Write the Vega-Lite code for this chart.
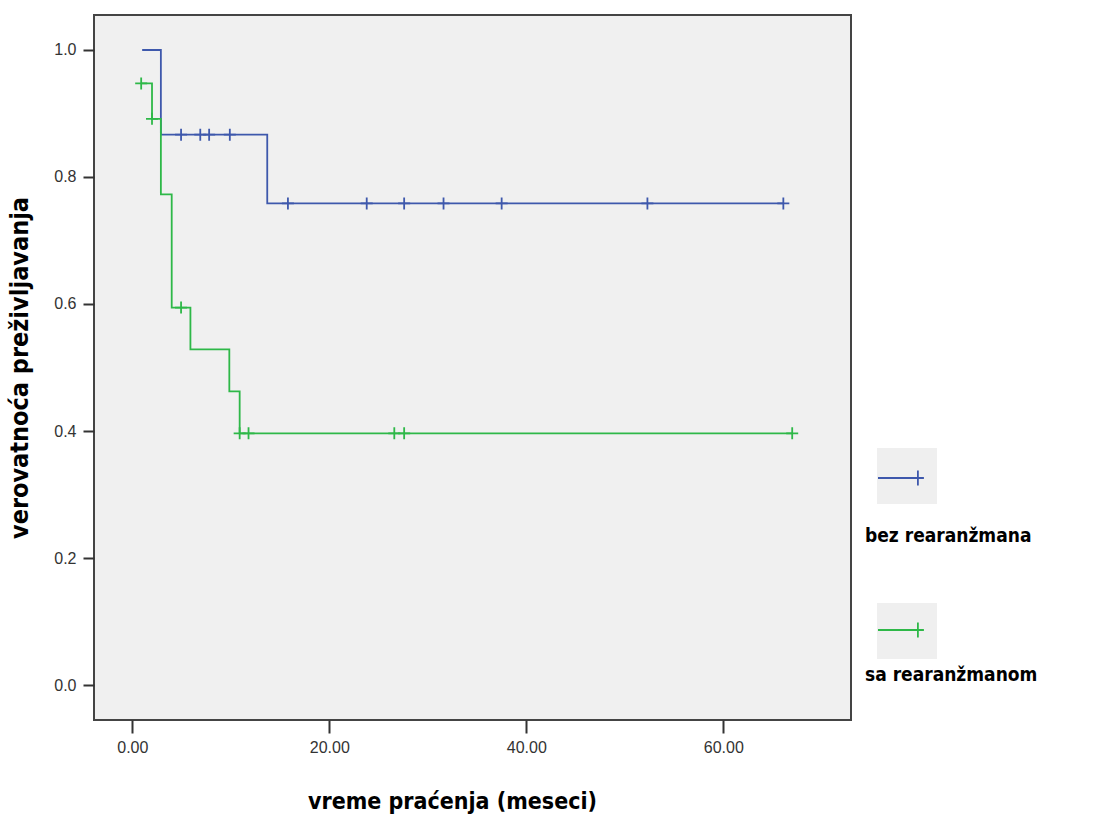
{
  "$schema": "https://vega.github.io/schema/vega-lite/v6.json",
  "width": 757,
  "height": 705,
  "autosize": "none",
  "padding": {"left": 94, "top": 15, "right": 243, "bottom": 98},
  "background": "white",
  "config": {
    "view": {"fill": "#F0F0F0", "stroke": "#444444", "strokeWidth": 2},
    "axis": {
      "domain": false,
      "grid": false,
      "tickColor": "#333333",
      "tickWidth": 2,
      "labelFont": "Liberation Sans",
      "labelFontSize": 16,
      "labelColor": "#333333",
      "titleFont": "Liberation Sans Narrow, DejaVu Sans Condensed, sans-serif",
      "titleFontWeight": "bold",
      "titleColor": "#000000"
    }
  },
  "data": {
    "values": [
      {"grupa": "bez rearanžmana", "tip": "korak", "t": 1.0, "s": 1.0},
      {"grupa": "bez rearanžmana", "tip": "korak", "t": 2.9, "s": 0.8667},
      {"grupa": "bez rearanžmana", "tip": "korak", "t": 13.7, "s": 0.7583},
      {"grupa": "bez rearanžmana", "tip": "korak", "t": 66.1, "s": 0.7583},
      {"grupa": "sa rearanžmanom", "tip": "korak", "t": 0.9, "s": 0.9474},
      {"grupa": "sa rearanžmanom", "tip": "korak", "t": 2.0, "s": 0.8916},
      {"grupa": "sa rearanžmanom", "tip": "korak", "t": 2.9, "s": 0.7727},
      {"grupa": "sa rearanžmanom", "tip": "korak", "t": 4.0, "s": 0.5944},
      {"grupa": "sa rearanžmanom", "tip": "korak", "t": 5.9, "s": 0.5284},
      {"grupa": "sa rearanžmanom", "tip": "korak", "t": 9.85, "s": 0.4623},
      {"grupa": "sa rearanžmanom", "tip": "korak", "t": 10.9, "s": 0.3963},
      {"grupa": "sa rearanžmanom", "tip": "korak", "t": 67.0, "s": 0.3963},
      {"grupa": "bez rearanžmana", "tip": "cenzura", "t": 4.95, "s": 0.8667},
      {"grupa": "bez rearanžmana", "tip": "cenzura", "t": 6.9, "s": 0.8667},
      {"grupa": "bez rearanžmana", "tip": "cenzura", "t": 7.8, "s": 0.8667},
      {"grupa": "bez rearanžmana", "tip": "cenzura", "t": 9.9, "s": 0.8667},
      {"grupa": "bez rearanžmana", "tip": "cenzura", "t": 15.8, "s": 0.7583},
      {"grupa": "bez rearanžmana", "tip": "cenzura", "t": 23.8, "s": 0.7583},
      {"grupa": "bez rearanžmana", "tip": "cenzura", "t": 27.6, "s": 0.7583},
      {"grupa": "bez rearanžmana", "tip": "cenzura", "t": 31.6, "s": 0.7583},
      {"grupa": "bez rearanžmana", "tip": "cenzura", "t": 37.5, "s": 0.7583},
      {"grupa": "bez rearanžmana", "tip": "cenzura", "t": 52.3, "s": 0.7583},
      {"grupa": "bez rearanžmana", "tip": "cenzura", "t": 66.1, "s": 0.7583},
      {"grupa": "sa rearanžmanom", "tip": "cenzura", "t": 0.9, "s": 0.9474},
      {"grupa": "sa rearanžmanom", "tip": "cenzura", "t": 2.0, "s": 0.8916},
      {"grupa": "sa rearanžmanom", "tip": "cenzura", "t": 4.95, "s": 0.5944},
      {"grupa": "sa rearanžmanom", "tip": "cenzura", "t": 10.9, "s": 0.3963},
      {"grupa": "sa rearanžmanom", "tip": "cenzura", "t": 11.8, "s": 0.3963},
      {"grupa": "sa rearanžmanom", "tip": "cenzura", "t": 26.6, "s": 0.3963},
      {"grupa": "sa rearanžmanom", "tip": "cenzura", "t": 27.6, "s": 0.3963},
      {"grupa": "sa rearanžmanom", "tip": "cenzura", "t": 67.0, "s": 0.3963}
    ]
  },
  "encoding": {
    "x": {
      "field": "t",
      "type": "quantitative",
      "scale": {"domain": [-3.89, 72.97], "nice": false, "zero": false},
      "axis": {"values": [0, 20, 40, 60], "format": ".2f", "title": "vreme praćenja (meseci)", "tickSize": 13, "labelPadding": 6, "titlePadding": 35, "titleFontSize": 23, "titleX": 358}
    },
    "y": {
      "field": "s",
      "type": "quantitative",
      "scale": {"domain": [-0.0551, 1.0551], "nice": false, "zero": false},
      "axis": {"values": [0, 0.2, 0.4, 0.6, 0.8, 1.0], "format": ".1f", "title": "verovatnoća preživljavanja", "tickSize": 11, "labelPadding": 7, "titlePadding": 21, "titleFontSize": 25}
    },
    "stroke": {
      "field": "grupa",
      "type": "nominal",
      "scale": {"domain": ["bez rearanžmana", "sa rearanžmanom"], "range": ["#3E58AC", "#2EB848"]},
      "legend": {
        "title": null,
        "orient": "none",
        "legendX": 783,
        "legendY": 432,
        "padding": 0,
        "zindex": 2,
        "symbolType": "M-1,0H0.53M0.33,-0.25V0.25",
        "symbolSize": 3600,
        "symbolStrokeWidth": 1.8,
        "labelFontSize": 1,
        "labelOpacity": 0,
        "rowPadding": 109
      }
    },
    "fill": {
      "field": "grupa",
      "type": "nominal",
      "scale": {"range": ["#EFEFEF", "#EFEFEF"]},
      "legend": {
        "title": null,
        "orient": "none",
        "legendX": 783,
        "legendY": 431,
        "padding": 0,
        "zindex": 1,
        "symbolType": "M-1,-0.933H1V0.933H-1Z",
        "symbolSize": 3600,
        "symbolStrokeWidth": 0,
        "symbolStrokeColor": "transparent",
        "symbolOpacity": 1,
        "labelFont": "Liberation Sans Narrow, DejaVu Sans Condensed, sans-serif",
        "labelFontSize": 19,
        "labelFontWeight": "bold",
        "labelColor": "#000000",
        "labelLimit": 400,
        "rowPadding": 55,
        "encode": {
          "labels": {"update": {"dx": {"value": -76}, "dy": {"signal": "datum.index == 0 ? 60 : 44"}}}
        }
      }
    }
  },
  "layer": [
    {
      "transform": [{"filter": "datum.tip == 'korak'"}],
      "mark": {"type": "line", "interpolate": "step-after", "strokeWidth": 1.8},
      "encoding": {"fillOpacity": {"value": 0}}
    },
    {
      "transform": [{"filter": "datum.tip == 'cenzura'"}],
      "mark": {"type": "point", "shape": "M-1,0H1M0,-1V1", "size": 144, "filled": false, "strokeWidth": 1.8, "opacity": 1},
      "encoding": {"fillOpacity": {"value": 0}}
    }
  ]
}
